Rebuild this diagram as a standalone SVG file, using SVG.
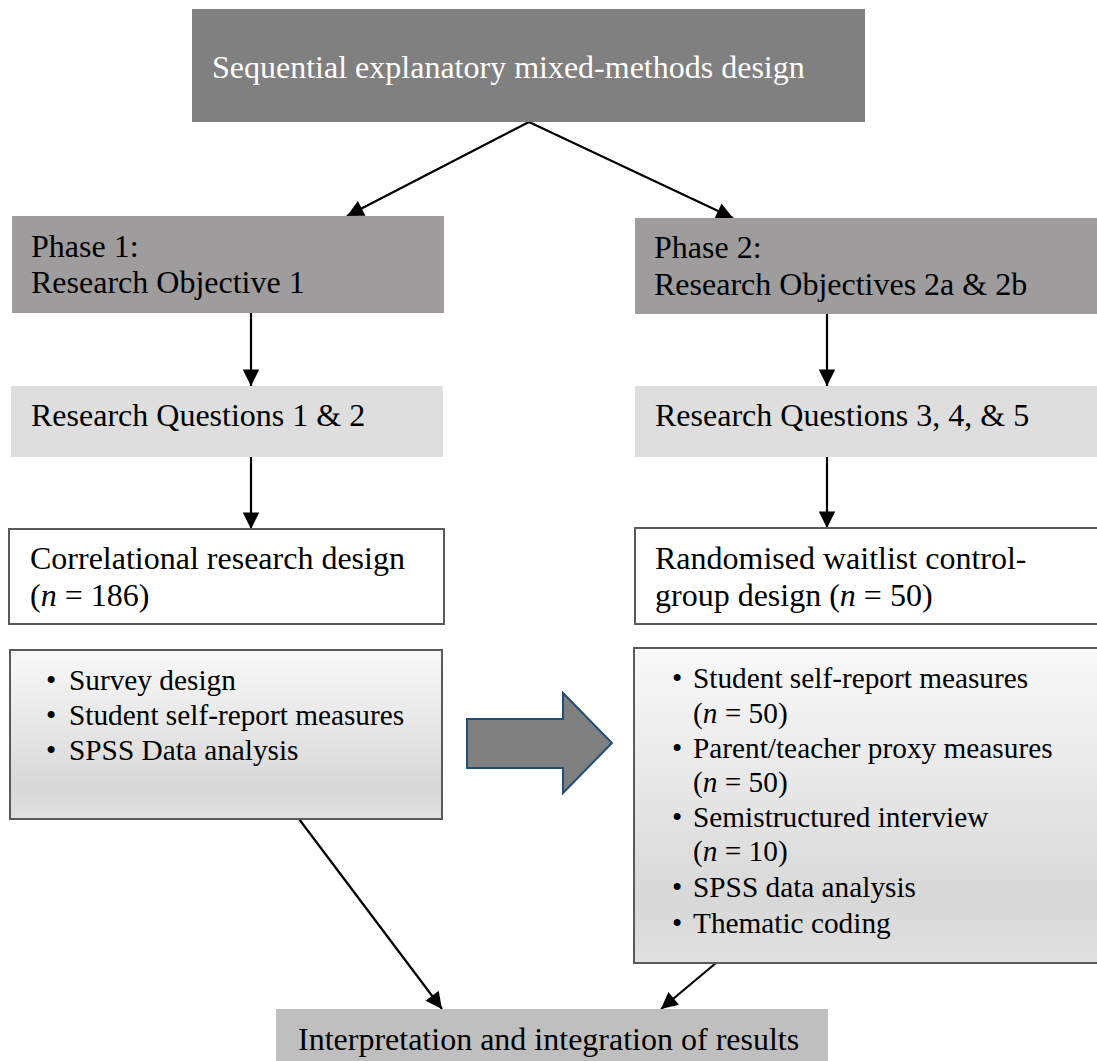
<svg xmlns="http://www.w3.org/2000/svg" width="1097" height="1061" viewBox="0 0 1097 1061" font-family="'Liberation Serif', 'DejaVu Serif', serif">
  <style>
    text { font-family: 'Liberation Serif', 'DejaVu Serif', serif; font-size: 32px; fill: #000; }
    .light { fill: #ffffff; }
    .it { font-style: italic; }
    .small text { font-size: 29.3px; }
    .conn { stroke: #000; stroke-width: 2.2; fill: none; marker-end: url(#head); }
    .outlined { stroke: #5a5a5a; stroke-width: 2; }
  </style>
  <defs>
    <marker id="head" viewBox="0 0 10 10" refX="10" refY="5" markerWidth="8" markerHeight="7.5" markerUnits="strokeWidth" orient="auto">
      <path d="M0,0 L10,5 L0,10 z" fill="#000"/>
    </marker>
    <linearGradient id="shade" x1="0" y1="0" x2="0" y2="1">
      <stop offset="0" stop-color="#f9f9f9"/>
      <stop offset="0.8" stop-color="#d8d8d8"/>
      <stop offset="1" stop-color="#e0e0e0"/>
    </linearGradient>
  </defs>

  <!-- connectors -->
  <g id="connectors">
    <line class="conn" x1="529" y1="122" x2="347" y2="216"/>
    <line class="conn" x1="529" y1="122" x2="733" y2="218"/>
    <line class="conn" x1="251" y1="313" x2="251" y2="386"/>
    <line class="conn" x1="827" y1="314" x2="827" y2="386"/>
    <line class="conn" x1="251" y1="457" x2="251" y2="529"/>
    <line class="conn" x1="827" y1="457" x2="827" y2="528"/>
    <line class="conn" x1="299" y1="819" x2="442" y2="1009"/>
    <line class="conn" x1="716" y1="963" x2="661" y2="1009"/>
    <!-- block arrow between the two method boxes -->
    <path d="M467,719 H563 V693 L612,743 L563,793 V768 H467 Z" fill="#808080" stroke="#1f4e79" stroke-width="2"/>
  </g>

  <g id="design">
    <rect x="192" y="9" width="673" height="113" fill="#808080"/>
    <text class="light" x="212" y="78">Sequential explanatory mixed-methods design</text>
  </g>

  <g id="phase1">
    <rect x="12" y="216" width="432" height="97" fill="#9e9c9d"/>
    <text x="31" y="257">Phase 1:</text>
    <text x="31" y="293">Research Objective 1</text>
  </g>

  <g id="phase2">
    <rect x="635" y="218" width="470" height="96" fill="#9e9c9d"/>
    <text x="654" y="258">Phase 2:</text>
    <text x="654" y="295">Research Objectives 2a &amp; 2b</text>
  </g>

  <g id="rq1">
    <rect x="11" y="386" width="432" height="71" fill="#dedede"/>
    <text x="31" y="426">Research Questions 1 &amp; 2</text>
  </g>

  <g id="rq2">
    <rect x="635" y="386" width="470" height="71" fill="#dedede"/>
    <text x="655" y="426">Research Questions 3, 4, &amp; 5</text>
  </g>

  <g id="correlational">
    <rect class="outlined" x="9" y="529" width="435" height="95" fill="#ffffff"/>
    <text x="30" y="569">Correlational research design</text>
    <text x="30" y="606">(<tspan class="it">n</tspan> = 186)</text>
  </g>

  <g id="waitlist">
    <rect class="outlined" x="635" y="528" width="470" height="96" fill="#ffffff"/>
    <text x="655" y="569">Randomised waitlist control-</text>
    <text x="655" y="606">group design (<tspan class="it">n</tspan> = 50)</text>
  </g>

  <g id="methods1" class="small">
    <rect class="outlined" x="10" y="650" width="432" height="169" fill="url(#shade)"/>
    <text x="46" y="690">•</text><text x="69" y="690">Survey design</text>
    <text x="46" y="725">•</text><text x="69" y="725">Student self-report measures</text>
    <text x="46" y="760">•</text><text x="69" y="760">SPSS Data analysis</text>
  </g>

  <g id="methods2" class="small">
    <rect class="outlined" x="634" y="648" width="470" height="315" fill="url(#shade)"/>
    <text x="672" y="688">•</text><text x="693" y="688">Student self-report measures</text>
    <text x="693" y="723">(<tspan class="it">n</tspan> = 50)</text>
    <text x="672" y="758">•</text><text x="693" y="758">Parent/teacher proxy measures</text>
    <text x="693" y="792">(<tspan class="it">n</tspan> = 50)</text>
    <text x="672" y="827">•</text><text x="693" y="827">Semistructured interview</text>
    <text x="693" y="861">(<tspan class="it">n</tspan> = 10)</text>
    <text x="672" y="897">•</text><text x="693" y="897">SPSS data analysis</text>
    <text x="672" y="933">•</text><text x="693" y="933">Thematic coding</text>
  </g>

  <g id="results">
    <rect x="276" y="1009" width="552" height="60" fill="#bfbfbf"/>
    <text x="298" y="1050">Interpretation and integration of results</text>
  </g>
</svg>
